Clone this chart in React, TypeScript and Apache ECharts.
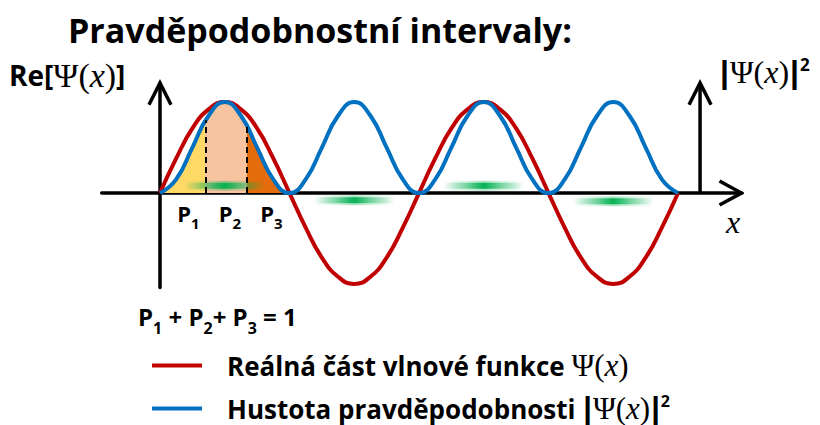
import React, { useEffect, useRef } from 'react';
import * as echarts from 'echarts';

// x in units of half a wave period (π); y in units of the amplitude
const xPositions = [
  0, 0.125, 0.25, 0.375, 0.5, 0.625, 0.75, 0.875,
  1, 1.125, 1.25, 1.375, 1.5, 1.625, 1.75, 1.875,
  2, 2.125, 2.25, 2.375, 2.5, 2.625, 2.75, 2.875,
  3, 3.125, 3.25, 3.375, 3.5, 3.625, 3.75, 3.875, 4,
];
const reValues = [
  0, 0.38, 0.71, 0.92, 1, 0.92, 0.71, 0.38,
  0, -0.38, -0.71, -0.92, -1, -0.92, -0.71, -0.38,
  0, 0.38, 0.71, 0.92, 1, 0.92, 0.71, 0.38,
  0, -0.38, -0.71, -0.92, -1, -0.92, -0.71, -0.38, 0,
];
const densityValues = [
  0, 0.15, 0.5, 0.85, 1, 0.85, 0.5, 0.15,
  0, 0.15, 0.5, 0.85, 1, 0.85, 0.5, 0.15,
  0, 0.15, 0.5, 0.85, 1, 0.85, 0.5, 0.15,
  0, 0.15, 0.5, 0.85, 1, 0.85, 0.5, 0.15, 0,
];
const intervalBounds = [0, 0.35, 0.67, 1];
const boundHeights = [0.8, 0.75];
const intervalColors = ['#FFD966', '#F8C4A0', '#E46C0A'];
const intervalLabels = ['1', '2', '3'];
const intervalLabelX = [0.22, 0.54, 0.86];
const greenBandX = [0.5, 1.5, 2.5, 3.5];
const greenBandY = [0.08, -0.08, 0.08, -0.09];
const greenBandHalfWidth = 0.31;

const X_MIN = -0.45;
const X_MAX = 4.49;
const Y_MIN = -1.04;
const Y_MAX = 1.21;
const RIGHT_AXIS_X = 4.17;

const RE_NAME = 'Reálná část vlnové funkce Ψ(x)';
const DENS_NAME = 'Hustota pravděpodobnosti |Ψ(x)|²';

const BOLD = 'Open Sans';
const MATH = 'Liberation Serif';

const mathRich = (size: number, msize: number, subDrop = 0.72) => ({
  a: { fontFamily: BOLD, fontWeight: 'bold', fontSize: size, color: '#000' },
  b: { fontFamily: 'Liberation Sans', fontWeight: 'bold', fontSize: msize, color: '#000', padding: [0, 1, 0, 1] },
  m: { fontFamily: MATH, fontSize: msize, color: '#000' },
  i: { fontFamily: MATH, fontStyle: 'italic', fontSize: msize, color: '#000' },
  sup: { fontFamily: BOLD, fontWeight: 'bold', fontSize: Math.round(size * 0.6), color: '#000', verticalAlign: 'top' },
  sub: { fontFamily: BOLD, fontWeight: 'bold', fontSize: Math.round(size * 0.68), color: '#000', padding: [size * subDrop, 0, 0, 0] },
});

export default function App() {
  const ref = useRef<HTMLDivElement>(null);
  useEffect(() => {
    if (!ref.current) return;
    const chart = echarts.init(ref.current, undefined, { renderer: 'svg' });
    const line = (d: number[][], z = 5) => ({
      type: 'line', data: d, symbol: 'none', clip: false, silent: true, z,
      lineStyle: { color: '#000', width: 3.5, join: 'miter', cap: 'butt' },
    });
    const ax = 0.17, ay = 0.132, bx = 0.085, by = 0.24;
    const option: any = {
      animation: false,
      title: {
        text: 'Pravděpodobnostní intervaly:',
        left: 63, top: 8,
        textStyle: { fontFamily: BOLD, fontWeight: 'bold', fontSize: 34, color: '#000' },
      },
      grid: { left: 101.7, right: 78.5, top: 83, bottom: 137.4 },
      xAxis: {
        type: 'value', min: X_MIN, max: X_MAX,
        axisLine: { show: true, onZero: true, lineStyle: { color: '#000', width: 3.5 } },
        axisTick: { show: false }, axisLabel: { show: false }, splitLine: { show: false },
      },
      yAxis: {
        type: 'value', min: Y_MIN, max: Y_MAX,
        axisLine: { show: true, onZero: true, lineStyle: { color: '#000', width: 3.5 } },
        axisTick: { show: false }, axisLabel: { show: false }, splitLine: { show: false },
      },
      visualMap: {
        show: false, type: 'piecewise', dimension: 0, seriesIndex: 0,
        pieces: [
          { gte: intervalBounds[0], lt: intervalBounds[1], color: intervalColors[0] },
          { gte: intervalBounds[1], lt: intervalBounds[2], color: intervalColors[1] },
          { gte: intervalBounds[2], lte: intervalBounds[3], color: intervalColors[2] },
        ],
        outOfRange: { color: 'rgba(255,255,255,0)' },
      },
      legend: {
        orient: 'vertical', left: 152, top: 350, height: 120, padding: 0,
        itemWidth: 50, itemHeight: 4, icon: 'rect', itemGap: 12,
        selectedMode: false,
        data: [RE_NAME, DENS_NAME],
        formatter: (n: string) => n === RE_NAME
          ? '{a|Reálná část vlnové funkce }{m|Ψ(}{i|x}{m|)}'
          : '{a|Hustota pravděpodobnosti }{b||}{m|Ψ(}{i|x}{m|)}{b||}{sup|2}',
        textStyle: { padding: [0, 0, 0, 20], rich: mathRich(26, 31) },
      },
      series: [
        {
          name: 'fill', type: 'line', smooth: true, symbol: 'none', silent: true, z: 1,
          data: xPositions.map((x, i) => [x, densityValues[i]]),
          lineStyle: { width: 0 },
          areaStyle: { opacity: 1 },
          markLine: {
            silent: true, symbol: ['none', 'none'], label: { show: false },
            lineStyle: { color: '#000', width: 2, type: [6, 4] },
            data: boundHeights.map((h, i) => [
              { coord: [intervalBounds[i + 1], 0] },
              { coord: [intervalBounds[i + 1], h] },
            ]),
          },
        },
        {
          name: 'green', type: 'custom', silent: true, z: 2,
          data: greenBandX.map((x, i) => [x, greenBandY[i]]),
          renderItem: (params: any, api: any) => {
            const p0 = api.coord([api.value(0) - greenBandHalfWidth, api.value(1)]);
            const p1 = api.coord([api.value(0) + greenBandHalfWidth, api.value(1)]);
            const grad = (a: number) => new echarts.graphic.LinearGradient(0, 0, 1, 0, [
              { offset: 0, color: 'rgba(0,176,80,0)' },
              { offset: 0.3, color: `rgba(0,176,80,${0.5 * a})` },
              { offset: 0.5, color: `rgba(0,176,80,${a})` },
              { offset: 0.7, color: `rgba(0,176,80,${0.5 * a})` },
              { offset: 1, color: 'rgba(0,176,80,0)' },
            ]);
            return {
              type: 'group',
              children: [
                { type: 'rect', shape: { x: p0[0], y: p0[1] - 5, width: p1[0] - p0[0], height: 10 }, style: { fill: grad(0.35) } },
                { type: 'rect', shape: { x: p0[0], y: p0[1] - 3, width: p1[0] - p0[0], height: 6 }, style: { fill: grad(0.95) } },
              ],
            };
          },
        },
        {
          name: RE_NAME, type: 'line', smooth: true, symbol: 'none', z: 3, silent: true,
          data: xPositions.map((x, i) => [x, reValues[i]]),
          itemStyle: { color: '#C00000' },
          lineStyle: { color: '#C00000', width: 4 },
        },
        {
          name: DENS_NAME, type: 'line', smooth: true, symbol: 'none', z: 4, silent: true,
          data: xPositions.map((x, i) => [x, densityValues[i]]),
          itemStyle: { color: '#0070C0' },
          lineStyle: { color: '#0070C0', width: 4 },
        },
        line([[X_MAX - ax, ay], [X_MAX, 0], [X_MAX - ax, -ay]]),
        line([[-bx, Y_MAX - by], [0, Y_MAX], [bx, Y_MAX - by]]),
        line([[RIGHT_AXIS_X, 0], [RIGHT_AXIS_X, Y_MAX]]),
        line([[RIGHT_AXIS_X - bx, Y_MAX - by], [RIGHT_AXIS_X, Y_MAX], [RIGHT_AXIS_X + bx, Y_MAX - by]]),
        {
          name: 'plabels', type: 'scatter', silent: true, symbolSize: 0, z: 6,
          itemStyle: { opacity: 1 },
          data: intervalLabelX.map((x, i) => [x, -0.22, intervalLabels[i]]),
          label: {
            show: true, position: 'inside', color: '#000', opacity: 1,
            textBorderWidth: 0, textBorderColor: 'transparent',
            fontWeight: 'bold', fontSize: 22,
            formatter: (p: any) => `{a|P}{sub|${p.value[2]}}`,
            rich: mathRich(22, 22, 0.95),
          },
        },
      ],
      graphic: [
        {
          type: 'text', left: 9, top: 58,
          style: { text: '{a|Re[}{m|Ψ(}{i|x}{m|)}{a|]}', rich: mathRich(28, 34) },
        },
        {
          type: 'text', left: 720, top: 56,
          style: { text: '{b||}{m|Ψ(}{i|x}{m|)}{b||}{sup|2}', rich: mathRich(28, 32) },
        },
        {
          type: 'text', left: 726, top: 206,
          style: { text: '{i|x}', rich: { i: { fontFamily: MATH, fontStyle: 'italic', fontSize: 32, color: '#000' } } },
        },
        {
          type: 'text', left: 138, top: 305,
          style: {
            text: '{a|P}{sub|1}{a| + P}{sub|2}{a|+ P}{sub|3}{a| = 1}',
            rich: mathRich(24, 24, 0.95),
          },
        },
      ],
    };
    chart.setOption(option);
    return () => chart.dispose();
  }, []);
  return <div ref={ref} style={{ width: 820, height: 425, position: 'absolute', left: 0, top: 0 }} />;
}
